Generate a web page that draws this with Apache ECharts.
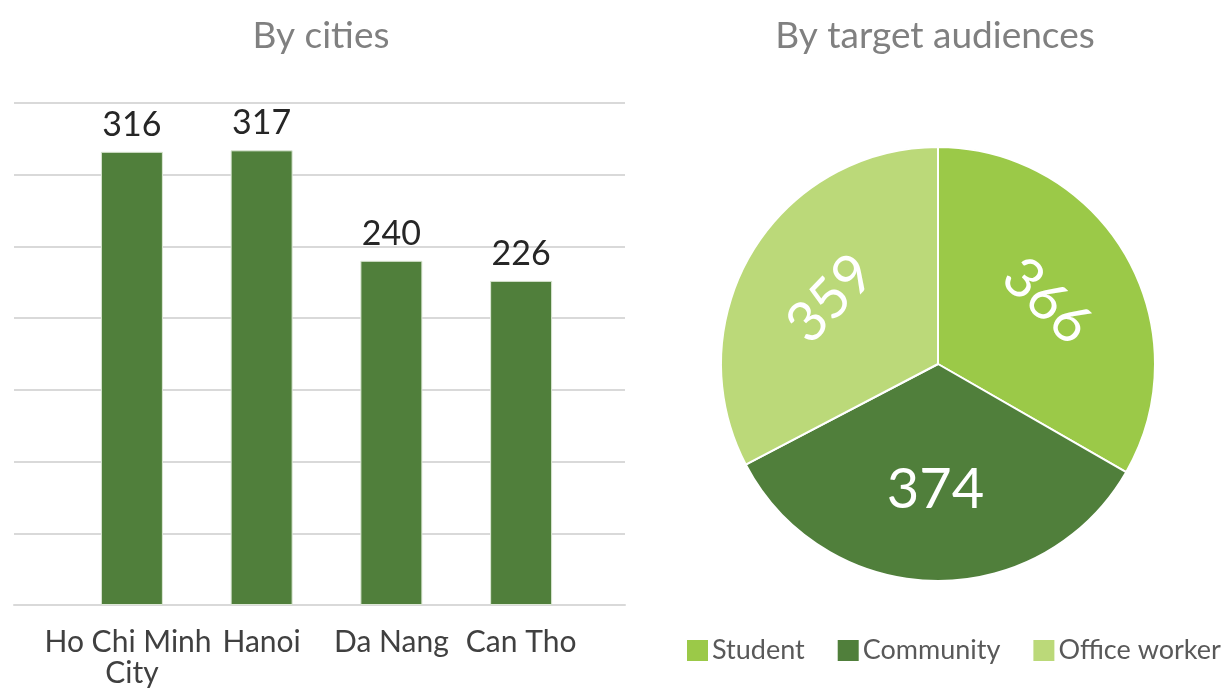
<!DOCTYPE html>
<html>
<head>
<meta charset="utf-8">
<script src="https://cdn.jsdelivr.net/npm/echarts@6/dist/echarts.min.js"></script>
<style>
	html, body { margin: 0; padding: 0; background: #fff; }
	#main { width: 1224px; height: 689px; }
</style>
</head>
<body>
<div id="main"></div>
<script type="text/javascript">
	// 数据
	var cities = ['Ho Chi Minh City', 'Hanoi', 'Da Nang', 'Can Tho'];
	var cityValues = [316, 317, 240, 226];
	var audiences = ['Student', 'Community', 'Office worker'];
	var audienceValues = [366, 374, 359];
	var audienceColors = ['#9BC948', '#507F3B', '#BBD979'];
	var labelRotate = [-43, 0, 46];

	var font = 'Lato';
	var myChart = echarts.init(document.getElementById('main'));

	var pieData = audiences.map(function (name, i) {
		return { name: name, value: audienceValues[i], itemStyle: { color: audienceColors[i] } };
	});
	// 标签用透明饼图（内半径让标签更靠外）
	var labelData = audiences.map(function (name, i) {
		return { name: name, value: audienceValues[i], label: { rotate: labelRotate[i] } };
	});

	myChart.setOption({
		textStyle: { fontFamily: font },
		title: [{
			text: 'By cities',
			left: 316, top: 13, textAlign: 'center',
			textStyle: { fontFamily: font, fontSize: 37, fontWeight: 'normal', color: '#808080' }
		}, {
			text: 'By target audiences',
			left: 930, top: 13, textAlign: 'center',
			textStyle: { fontFamily: font, fontSize: 37, fontWeight: 'normal', color: '#808080' }
		}],
		legend: {
			data: audiences,
			left: 680, top: 632, width: 544,
			itemWidth: 23, itemHeight: 23, itemGap: 31,
			icon: 'rect',
			textStyle: { fontFamily: font, fontSize: 27, color: '#595959', padding: [0, 0, 0, -2] }
		},
		grid: [
			{ left: 67, width: 519, top: 103, bottom: 84 },
			{ left: 14, width: 611, top: 103, bottom: 84 }
		],
		xAxis: [{
			type: 'category', gridIndex: 0, data: cities,
			axisLine: { show: false }, axisTick: { show: false },
			axisLabel: {
				interval: 0, margin: 22, width: 190, overflow: 'break',
				fontFamily: font, fontSize: 30, color: '#404040', lineHeight: 31
			}
		}, {
			type: 'category', gridIndex: 1, data: [''],
			axisLine: { lineStyle: { color: '#D9D9D9', width: 2 } },
			axisTick: { show: false }, axisLabel: { show: false }
		}],
		yAxis: [{
			type: 'value', gridIndex: 0, min: 0, max: 350, interval: 50,
			axisLabel: { show: false }, splitLine: { show: false },
			axisLine: { show: false }, axisTick: { show: false }
		}, {
			type: 'value', gridIndex: 1, min: 0, max: 350, interval: 50,
			axisLabel: { show: false },
			splitLine: { lineStyle: { color: '#D9D9D9', width: 2 } },
			axisLine: { show: false }, axisTick: { show: false }
		}],
		series: [{
			name: 'By cities',
			type: 'bar',
			xAxisIndex: 0, yAxisIndex: 0,
			data: cityValues,
			barWidth: 62,
			itemStyle: { color: '#507F3B', borderColor: '#DDE8D6', borderWidth: 1 },
			label: {
				show: true, position: 'top', distance: 10,
				fontFamily: font, fontSize: 34, color: '#262626'
			},
			z: 3
		}, {
			name: 'By target audiences',
			type: 'pie',
			center: [938, 364],
			radius: 217,
			startAngle: 90,
			clockwise: true,
			data: pieData,
			itemStyle: { borderColor: '#fff', borderWidth: 2 },
			label: { show: false },
			labelLine: { show: false },
			emphasis: { disabled: true }
		}, {
			name: 'labels',
			type: 'pie',
			center: [938, 364],
			radius: [28, 217],
			startAngle: 90,
			clockwise: true,
			silent: true,
			data: labelData,
			itemStyle: { color: 'rgba(0,0,0,0)' },
			label: {
				show: true, position: 'inside',
				formatter: '{c}',
				fontFamily: font, fontSize: 56, color: '#fff'
			},
			labelLine: { show: false },
			emphasis: { disabled: true },
			z: 3
		}]
	});
</script>
</body>
</html>
